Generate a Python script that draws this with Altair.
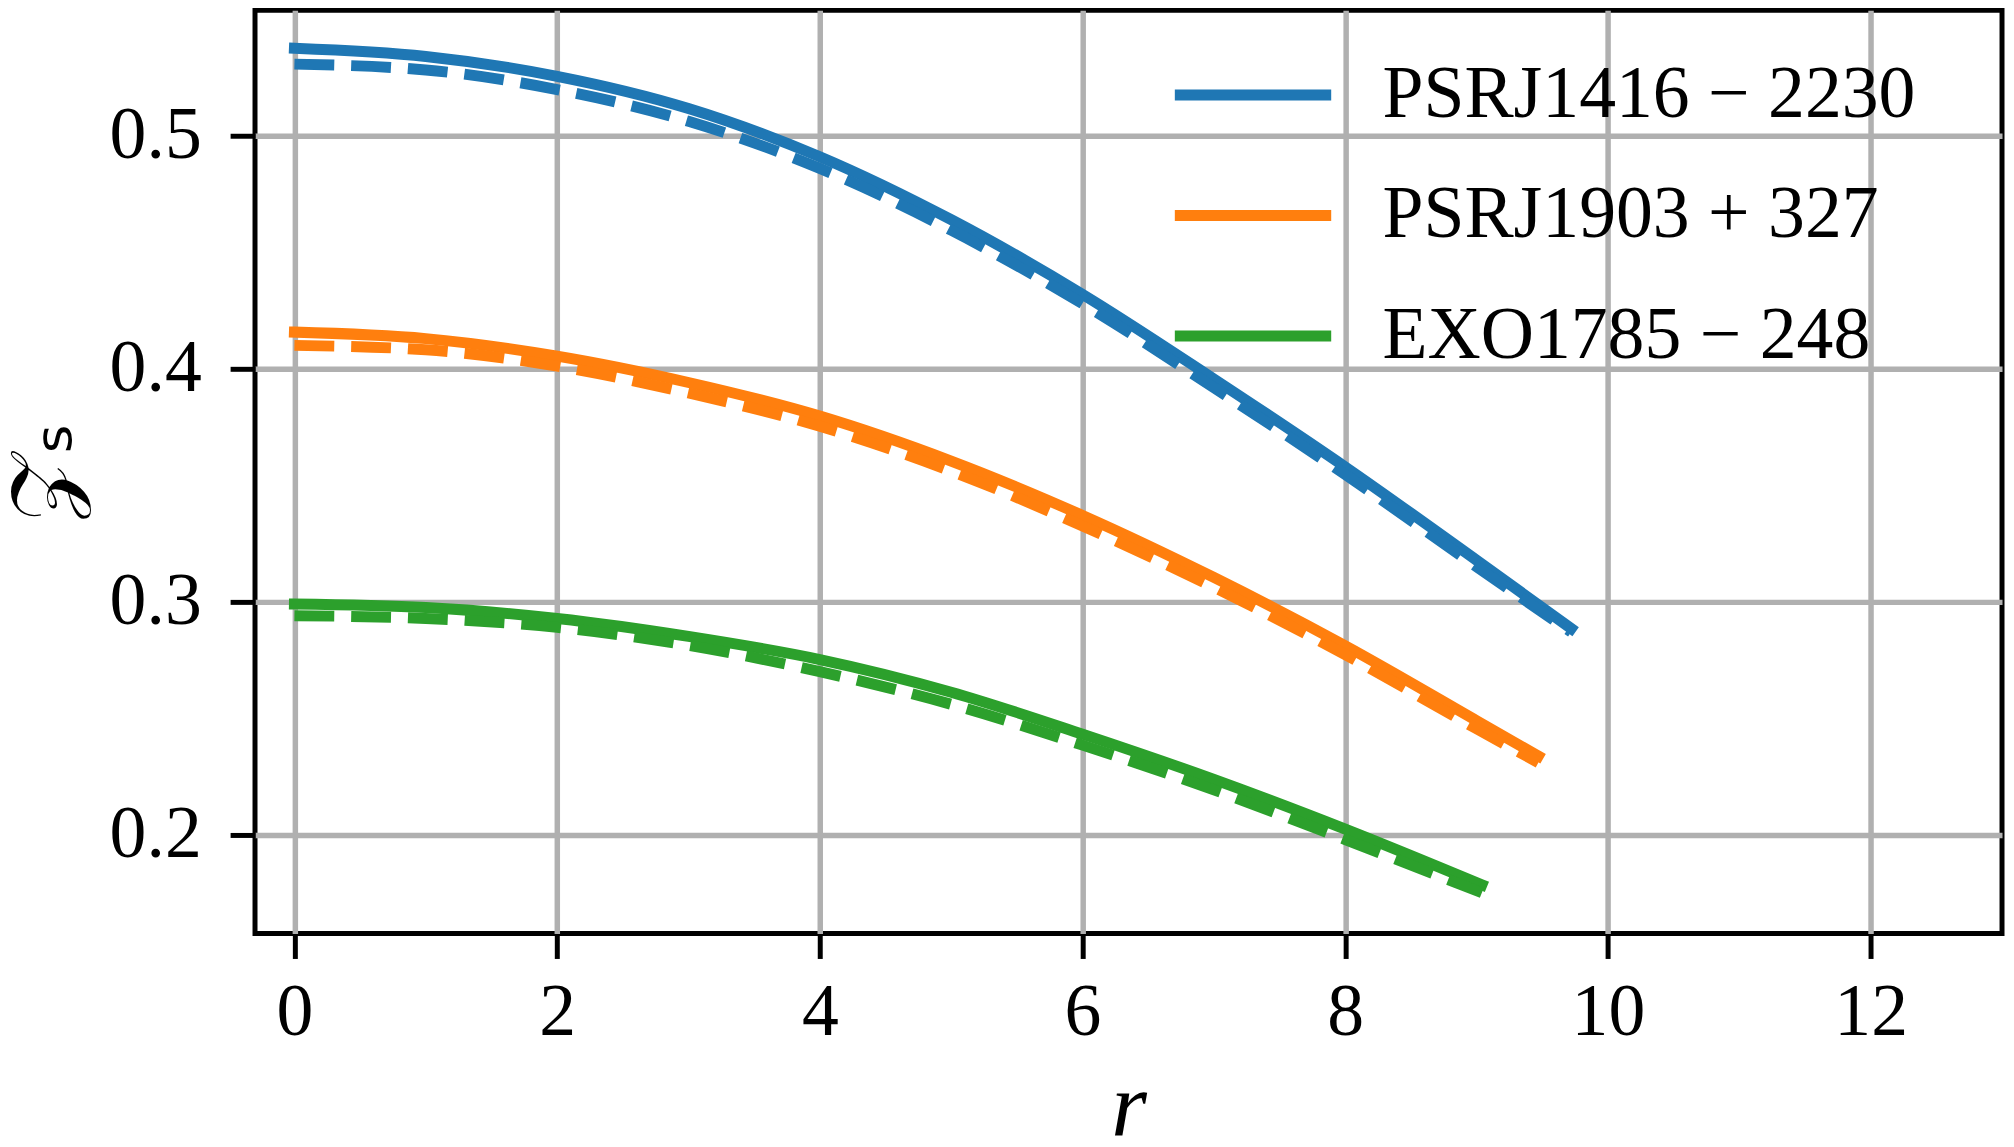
import altair as alt
import pandas as pd

# ---- data ----
names = ["PSRJ1416 − 2230", "PSRJ1903 + 327", "EXO1785 − 248"]
colors = ["#1f77b4", "#ff7f0e", "#2ca02c"]

r_blue = [0, 1, 2, 3, 4, 5, 6, 7, 8, 9, 9.72]
blue_solid = [0.5373, 0.5338, 0.5253, 0.5115, 0.4908, 0.4638, 0.4318, 0.3955, 0.3578, 0.3178, 0.2885]
blue_dashed = [0.5305, 0.5280, 0.5196, 0.5060, 0.4858, 0.4593, 0.4278, 0.3918, 0.3545, 0.3150, 0.2870]

r_orange = [0, 1, 2, 3, 4, 5, 6, 7, 8, 9, 9.47]
orange_solid = [0.4156, 0.4128, 0.4053, 0.3940, 0.3796, 0.3603, 0.3370, 0.3104, 0.2811, 0.2490, 0.2338]
orange_dashed = [0.4099, 0.4080, 0.4010, 0.3895, 0.3752, 0.3560, 0.3325, 0.3062, 0.2773, 0.2455, 0.2310]

r_green = [0, 1, 2, 3, 4, 5, 6, 7, 8, 9.04]
green_solid = [0.2990, 0.2975, 0.2928, 0.2851, 0.2752, 0.2612, 0.2432, 0.2238, 0.2025, 0.1786]
green_dashed = [0.2940, 0.2928, 0.2890, 0.2813, 0.2700, 0.2560, 0.2385, 0.2193, 0.1980, 0.1752]

x_ticks = [0, 2, 4, 6, 8, 10, 12]
y_ticks = [0.2, 0.3, 0.4, 0.5]

rows = []
for name, rr, sol, das in [
    (names[0], r_blue, blue_solid, blue_dashed),
    (names[1], r_orange, orange_solid, orange_dashed),
    (names[2], r_green, green_solid, green_dashed),
]:
    for x, ys, yd in zip(rr, sol, das):
        rows.append({"r": x, "Z": ys, "src": name, "kind": "solid"})
        rows.append({"r": x, "Z": yd, "src": name, "kind": "dashed"})
df = pd.DataFrame(rows)

FONT = "Liberation Serif"

xenc = alt.X(
    "r:Q",
    scale=alt.Scale(domain=[-0.3, 13.0], nice=False, zero=False),
    axis=alt.Axis(
        values=x_ticks, format="d", title="r",
        titleFontStyle="italic", titleFontSize=92, titleFont=FONT,
        titleFontWeight="normal", titleY=202, titleBaseline="alphabetic",
        labelPadding=18,
    ),
)
yenc = alt.Y(
    "Z:Q",
    scale=alt.Scale(domain=[0.1577, 0.5536], nice=False, zero=False),
    axis=alt.Axis(
        values=y_ticks, format=".1f", title="𝒵ₛ",
        titleFontSize=88, titleFont="DejaVu Sans", titleFontWeight="normal",
        titleAngle=270, titleX=-184, titleBaseline="alphabetic",
        labelPadding=29,
    ),
)
color_scale = alt.Scale(domain=names, range=colors)

solid = alt.Chart(df).transform_filter(alt.datum.kind == "solid").mark_line(
    strokeWidth=11, interpolate="monotone", strokeCap="square"
).encode(
    x=xenc, y=yenc,
    color=alt.Color("src:N", scale=color_scale, sort=names,
                    legend=alt.Legend(title=None)),
)

dashed = alt.Chart(df).transform_filter(alt.datum.kind == "dashed").mark_line(
    strokeWidth=11, interpolate="monotone", strokeDash=[40, 17], strokeCap="butt"
).encode(
    x=xenc, y=yenc,
    color=alt.Color("src:N", scale=color_scale, sort=names, legend=None),
)

chart = alt.layer(solid, dashed).properties(
    width=1754, height=927,
    autosize=alt.AutoSizeParams(type="none"),
    padding={"left": 248, "top": 0, "right": 4, "bottom": 203},
    background="white",
).configure_view(
    stroke="black", strokeWidth=5
).configure_axis(
    grid=True, gridColor="#b0b0b0", gridWidth=5.5, gridOpacity=1,
    domain=False, ticks=True, tickColor="black", tickWidth=5, tickSize=25,
    labelFont=FONT, labelFontSize=74, labelColor="black", labelFlush=False,
    titleColor="black",
).configure_legend(
    orient="none", legendX=918, legendY=1,
    symbolType="stroke", symbolStrokeWidth=11, symbolSize=24649,
    labelFont=FONT, labelFontSize=74, labelColor="black", labelOffset=46,
    labelLimit=1000, padding=0, rowPadding=-17,
)

chart.save("out.html", embed_options={"renderer": "svg", "actions": False})
